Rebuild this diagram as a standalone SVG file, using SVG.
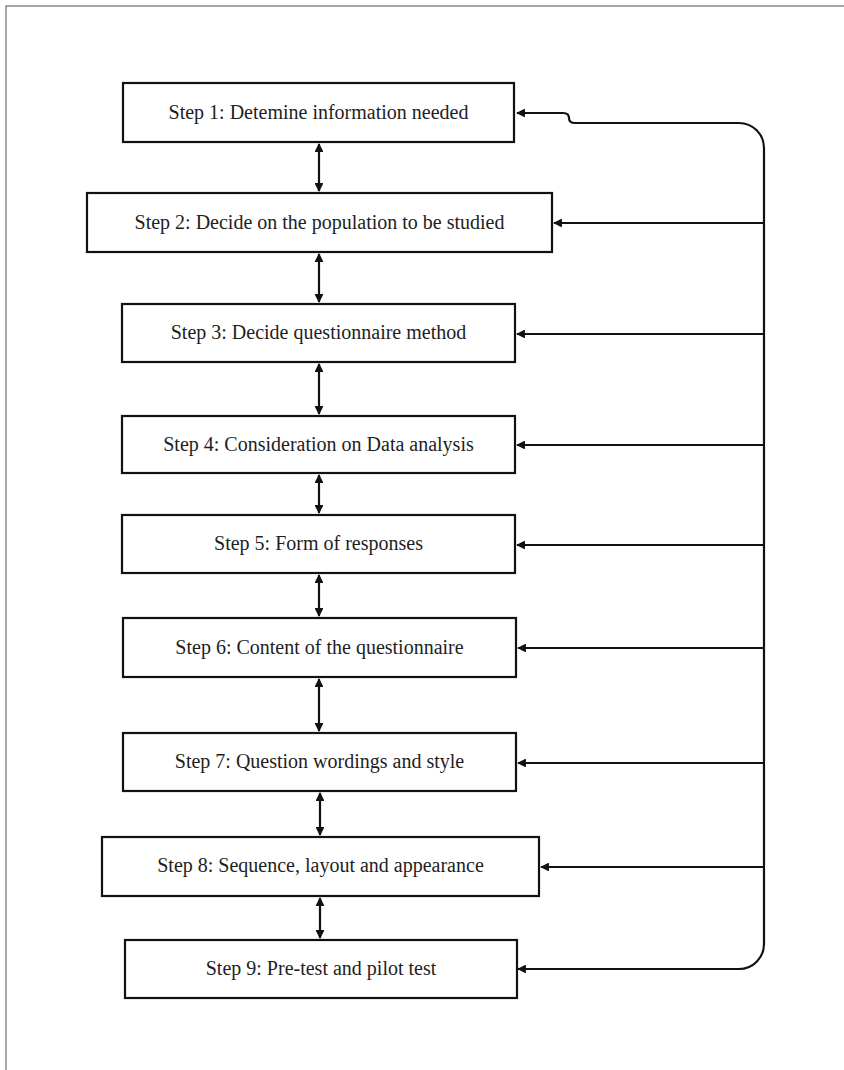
<svg xmlns="http://www.w3.org/2000/svg" width="844" height="1070" viewBox="0 0 844 1070">
  <style>
    .box { fill: #ffffff; stroke: #111111; stroke-width: 2.2; }
    .label { font-family: "Liberation Serif", "Times New Roman", serif; font-size: 20px; fill: #1e1e1e; text-anchor: middle; }
    .link { fill: none; stroke: #111111; stroke-width: 2.2; }
    .frame { fill: none; stroke: #8a8a8a; stroke-width: 1.5; }
  </style>
  <defs>
    <marker id="head" viewBox="0 0 10 10" refX="9" refY="5" markerWidth="4" markerHeight="4" markerUnits="strokeWidth" orient="auto-start-reverse">
      <path d="M0,0 L10,5 L0,10 Z" fill="#111111"/>
    </marker>
  </defs>

  <rect width="844" height="1070" fill="#ffffff"/>
  <!-- page frame -->
  <path class="frame" d="M6,1070 V6 H844"/>

  <!-- connectors -->
  <g id="connectors">
    <!-- vertical two-way links between steps -->
    <line class="link" x1="319" y1="144" x2="319" y2="191" marker-start="url(#head)" marker-end="url(#head)"/>
    <line class="link" x1="319" y1="254" x2="319" y2="302" marker-start="url(#head)" marker-end="url(#head)"/>
    <line class="link" x1="319" y1="364" x2="319" y2="414" marker-start="url(#head)" marker-end="url(#head)"/>
    <line class="link" x1="319" y1="475" x2="319" y2="513" marker-start="url(#head)" marker-end="url(#head)"/>
    <line class="link" x1="319" y1="575" x2="319" y2="616" marker-start="url(#head)" marker-end="url(#head)"/>
    <line class="link" x1="319" y1="679" x2="319" y2="731" marker-start="url(#head)" marker-end="url(#head)"/>
    <line class="link" x1="320" y1="793" x2="320" y2="835" marker-start="url(#head)" marker-end="url(#head)"/>
    <line class="link" x1="320" y1="898" x2="320" y2="938" marker-start="url(#head)" marker-end="url(#head)"/>

    <!-- feedback loop on the right -->
    <path class="link" d="M517,113 H563 Q569,113 569,118 Q569,123 575,123 H739 A25,25 0 0 1 764,148 V944 A25,25 0 0 1 739,969 H518" marker-start="url(#head)" marker-end="url(#head)"/>
    <line class="link" x1="764" y1="223" x2="554" y2="223" marker-end="url(#head)"/>
    <line class="link" x1="764" y1="334" x2="517" y2="334" marker-end="url(#head)"/>
    <line class="link" x1="764" y1="445" x2="517" y2="445" marker-end="url(#head)"/>
    <line class="link" x1="764" y1="545" x2="517" y2="545" marker-end="url(#head)"/>
    <line class="link" x1="764" y1="648" x2="518" y2="648" marker-end="url(#head)"/>
    <line class="link" x1="764" y1="763" x2="518" y2="763" marker-end="url(#head)"/>
    <line class="link" x1="764" y1="867" x2="541" y2="867" marker-end="url(#head)"/>
  </g>

  <g id="step1">
    <rect class="box" x="123" y="83" width="391" height="59"/>
    <text class="label" x="318.5" y="119">Step 1: Detemine information needed</text>
  </g>
  <g id="step2">
    <rect class="box" x="87" y="193" width="465" height="59"/>
    <text class="label" x="319.5" y="229">Step 2: Decide on the population to be studied</text>
  </g>
  <g id="step3">
    <rect class="box" x="122" y="304" width="393" height="58"/>
    <text class="label" x="318.5" y="339">Step 3: Decide questionnaire method</text>
  </g>
  <g id="step4">
    <rect class="box" x="122" y="416" width="393" height="57"/>
    <text class="label" x="318.5" y="451">Step 4: Consideration on Data analysis</text>
  </g>
  <g id="step5">
    <rect class="box" x="122" y="515" width="393" height="58"/>
    <text class="label" x="318.5" y="550">Step 5: Form of responses</text>
  </g>
  <g id="step6">
    <rect class="box" x="123" y="618" width="393" height="59"/>
    <text class="label" x="319.5" y="654">Step 6: Content of the questionnaire</text>
  </g>
  <g id="step7">
    <rect class="box" x="123" y="733" width="393" height="58"/>
    <text class="label" x="319.5" y="768">Step 7: Question wordings and style</text>
  </g>
  <g id="step8">
    <rect class="box" x="102" y="837" width="437" height="59"/>
    <text class="label" x="320.5" y="872">Step 8: Sequence, layout and appearance</text>
  </g>
  <g id="step9">
    <rect class="box" x="125" y="940" width="392" height="58"/>
    <text class="label" x="321" y="975">Step 9: Pre-test and pilot test</text>
  </g>
</svg>
